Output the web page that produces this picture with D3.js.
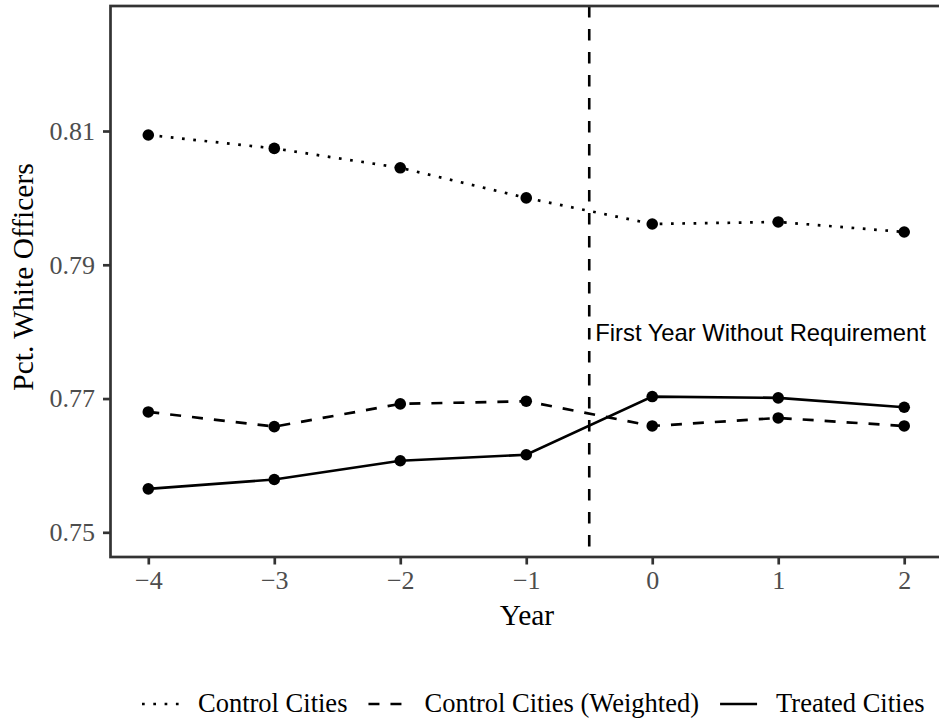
<!DOCTYPE html>
<html>
<head>
<meta charset="utf-8">
<script src="https://cdn.jsdelivr.net/npm/d3@7"></script>
<style>
  body { margin: 0; background: #fff; }
  svg { display: block; }
</style>
</head>
<body>
<div id="chart"></div>
<script>
// chart data
const years = [-4, -3, -2, -1, 0, 1, 2];
const controlCities = [0.8094, 0.8074, 0.8045, 0.8000, 0.7961, 0.7964, 0.7949];
const controlWeighted = [0.7680, 0.7658, 0.7692, 0.7696, 0.7659, 0.7671, 0.7659];
const treatedCities = [0.7565, 0.7579, 0.7607, 0.7616, 0.7703, 0.7701, 0.7687];
const yTicks = [0.75, 0.77, 0.79, 0.81];
const seriesNames = ["Control Cities", "Control Cities (Weighted)", "Treated Cities"];
const cutoffYear = -0.5;
const cutoffLabel = "First Year Without Requirement";

const width = 939;
const height = 719;
const panel = {left: 111, top: 6, bottom: 557};

const serif = "'Liberation Serif', 'Times New Roman', serif";
const sans = "'Liberation Sans', Arial, sans-serif";

// line styles per series (ggplot dotted / dashed / solid)
const dashes = ["2.7,8.6", "11,11", null];

const svg = d3.select("#chart")
  .append("svg")
  .attr("width", width)
  .attr("height", height);

// scales
const xScale = d3.scaleLinear()
  .domain([-4.3, 2.3])
  .range([110.5, 942]);

const yScale = d3.scaleLinear()
  .domain([0.74631, 0.82869])
  .range([panel.bottom, panel.top]);

const series = [controlCities, controlWeighted, treatedCities].map((vals, k) => ({
  name: seriesNames[k],
  dash: dashes[k],
  points: years.map((yr, i) => ({x: yr, y: vals[i]}))
}));

// clip to panel
svg.append("clipPath").attr("id", "panel-clip")
  .append("rect")
  .attr("x", xScale.range()[0])
  .attr("y", panel.top)
  .attr("width", xScale.range()[1] - xScale.range()[0])
  .attr("height", panel.bottom - panel.top);

const plot = svg.append("g").attr("clip-path", "url(#panel-clip)");

// vertical cutoff line
plot.append("line")
  .attr("x1", xScale(cutoffYear))
  .attr("x2", xScale(cutoffYear))
  .attr("y1", panel.top)
  .attr("y2", panel.bottom)
  .attr("stroke", "#000")
  .attr("stroke-width", 2.6)
  .attr("stroke-dasharray", "11.5,11.5");

plot.append("text")
  .attr("x", xScale(cutoffYear) + 6)
  .attr("y", 340.5)
  .attr("font-family", sans)
  .attr("font-size", "23.8px")
  .attr("fill", "#000")
  .text(cutoffLabel);

const line = d3.line()
  .x(d => xScale(d.x))
  .y(d => yScale(d.y));

plot.selectAll(".series")
  .data(series)
  .enter()
  .append("path")
    .attr("class", "series")
    .attr("d", d => line(d.points))
    .attr("fill", "none")
    .attr("stroke", "#000")
    .attr("stroke-width", 2.7)
    .attr("stroke-dasharray", d => d.dash);

series.forEach(s => {
  plot.selectAll(null)
    .data(s.points)
    .enter()
    .append("circle")
      .attr("cx", d => xScale(d.x))
      .attr("cy", d => yScale(d.y))
      .attr("r", 5.8)
      .attr("fill", "#000");
});

// panel border
svg.append("rect")
  .attr("x", xScale.range()[0])
  .attr("y", panel.top)
  .attr("width", xScale.range()[1] - xScale.range()[0])
  .attr("height", panel.bottom - panel.top)
  .attr("fill", "none")
  .attr("stroke", "#333333")
  .attr("stroke-width", 2.7);

// y axis
const yAxis = svg.append("g")
  .attr("transform", `translate(${xScale.range()[0]},0)`)
  .call(d3.axisLeft(yScale).tickValues(yTicks).tickFormat(d3.format(".2f")).tickSize(7.5).tickPadding(8));
yAxis.select(".domain").remove();
yAxis.selectAll(".tick line").attr("stroke", "#333333").attr("stroke-width", 2.7);
yAxis.selectAll(".tick text")
  .attr("font-family", serif)
  .attr("font-size", "26px")
  .attr("fill", "#4D4D4D");

// x axis
const xAxis = svg.append("g")
  .attr("transform", `translate(0,${panel.bottom})`)
  .call(d3.axisBottom(xScale).tickValues(years).tickFormat(d3.format("d")).tickSize(7.5).tickPadding(6));
xAxis.select(".domain").remove();
xAxis.selectAll(".tick line").attr("stroke", "#333333").attr("stroke-width", 2.7);
xAxis.selectAll(".tick text")
  .attr("font-family", serif)
  .attr("font-size", "26px")
  .attr("fill", "#4D4D4D");

// axis titles
svg.append("text")
  .attr("x", 527)
  .attr("y", 625)
  .attr("text-anchor", "middle")
  .attr("font-family", serif)
  .attr("font-size", "29.5px")
  .attr("fill", "#000")
  .text("Year");

svg.append("text")
  .attr("transform", "translate(33,277) rotate(-90)")
  .attr("text-anchor", "middle")
  .attr("font-family", serif)
  .attr("font-size", "29.5px")
  .attr("fill", "#000")
  .text("Pct. White Officers");

// legend
const legend = svg.append("g");
let lx = 142;
const keyY = 704;
series.forEach(s => {
  legend.append("line")
    .attr("x1", lx)
    .attr("x2", lx + 37)
    .attr("y1", keyY)
    .attr("y2", keyY)
    .attr("stroke", "#000")
    .attr("stroke-width", 2.7)
    .attr("stroke-dasharray", s.dash);
  const t = legend.append("text")
    .attr("x", lx + 56)
    .attr("y", 712)
    .attr("font-family", serif)
    .attr("font-size", "26.5px")
    .attr("fill", "#000")
    .text(s.name);
  lx += 56 + t.node().getComputedTextLength() + 21;
});
</script>
</body>
</html>
